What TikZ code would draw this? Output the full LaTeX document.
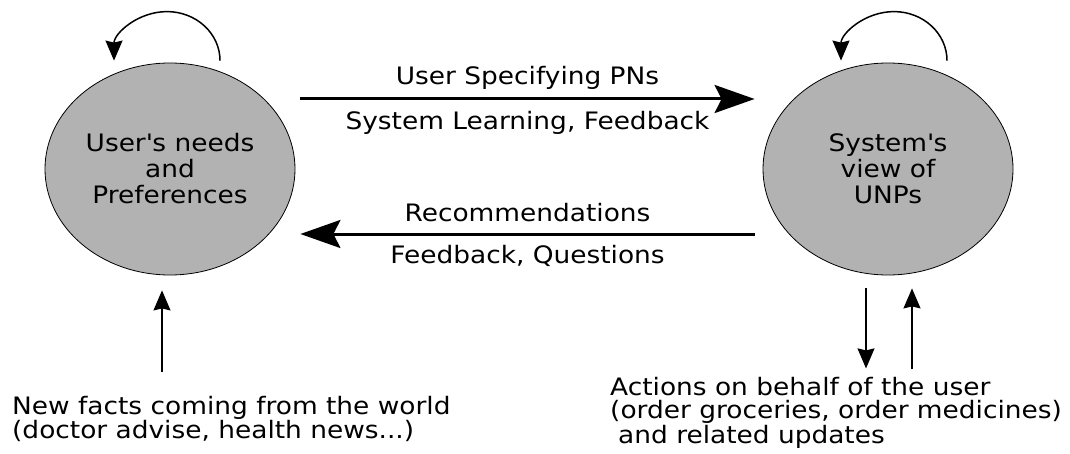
\documentclass[tikz,border=0pt]{standalone}
\usepackage{fontspec}
\setmainfont{DejaVu Sans}[FakeStretch=1.1]
\usetikzlibrary{arrows.meta}
\usetikzlibrary{calc}
\usetikzlibrary{shapes.geometric}
\tikzset{
	stateBubble/.style={ellipse, draw, line width=0.8pt, fill=black!30, minimum width=250pt, minimum height=212pt, inner sep=0pt, align=center, font=\fontsize{24}{26}\selectfont},
	linkLabel/.style={midway, anchor=base, inner sep=0pt, font=\fontsize{24}{26}\selectfont},
	noteText/.style={anchor=base west, inner sep=0pt, align=left, font=\fontsize{24}{24}\selectfont},
	bigArrow/.style={line width=3pt, -{Stealth[length=40pt, width=28pt, inset=7pt]}},
	smallArrow/.style={line width=1.5pt, -{Stealth[length=20pt, width=17pt, inset=2pt]}}
}
\newcommand{\drawSelfLoop}[2]{
	\draw[smallArrow] ($(#1.north)+(#2,2)$) arc[start angle=0, end angle=180, x radius=53, y radius=49];
}
\begin{document}
\begin{tikzpicture}[x=1pt,y=1pt]
		\useasboundingbox (0,0) rectangle (1070,453);

		\node[stateBubble] (user) at (170,284) {User\textquotesingle s needs\\and\\Preferences};
		\node[stateBubble] (system) at (888,284) {System\textquotesingle s\\view of\\UNPs};

		\drawSelfLoop{user}{50}
		\drawSelfLoop{system}{59}

		\draw[bigArrow] ([xshift=5pt,yshift=70pt]user.east) -- ([xshift=-8pt,yshift=70pt]system.west)
			node[linkLabel, yshift=14pt] (specLabel) {User Specifying PNs}
			node[linkLabel, yshift=-31pt] (learnLabel) {System Learning, Feedback};
		\draw[bigArrow] ([xshift=-8pt,yshift=-65pt]system.west) -- ([xshift=5pt,yshift=-65pt]user.east)
			node[linkLabel, yshift=12pt] (recLabel) {Recommendations}
			node[linkLabel, yshift=-29pt] (questLabel) {Feedback, Questions};

		\node[noteText] (facts) at (12,15) {New facts coming from the world\\(doctor advise, health news...)};
		\node[noteText, font=\fontsize{24}{23}\selectfont] (actions) at (610,10) {Actions on behalf of the user\\(order groceries, order medicines)\\\hspace*{8pt}and related updates};

		\draw[smallArrow] ($(user.south)+(-8,-97)$) -- ($(user.south)+(-8,-15)$);
		\draw[smallArrow] ($(system.south)+(-22,-13)$) -- ($(system.south)+(-22,-93)$);
		\draw[smallArrow] ($(system.south)+(24,-94)$) -- ($(system.south)+(24,-13)$);
	\end{tikzpicture}
\end{document}
